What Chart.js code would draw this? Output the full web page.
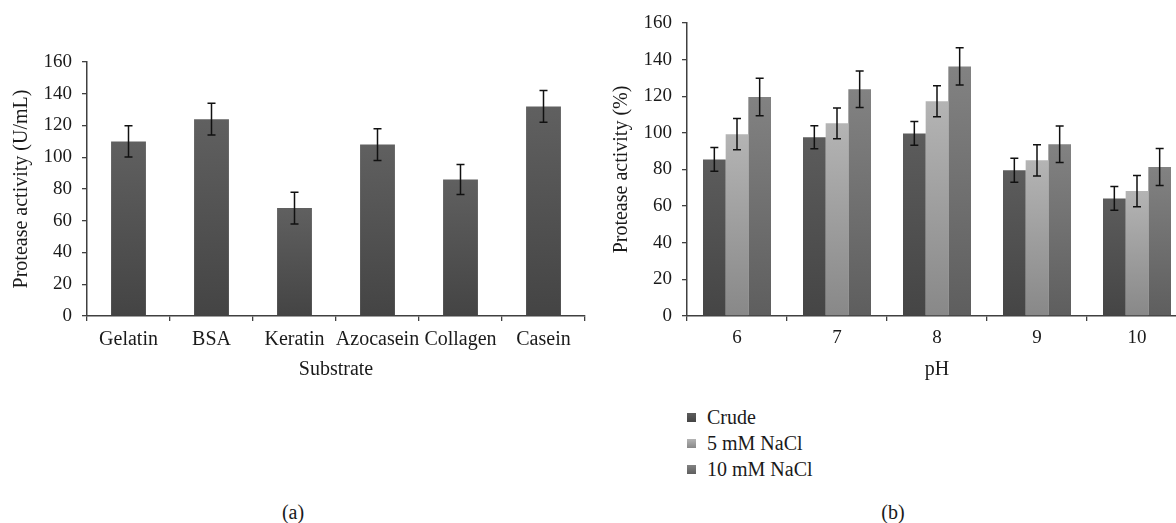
<!DOCTYPE html>
<html>
<head>
<meta charset="utf-8">
<script src="https://cdn.jsdelivr.net/npm/chart.js@4"></script>
<style>
  html, body { margin: 0; padding: 0; background: #fff; overflow: hidden; }
  body { width: 1176px; height: 523px; position: relative; font-family: "Liberation Serif", serif; color: #1a1a1a; }
  canvas { position: absolute; top: 0; }
  #chartA { left: 0; }
  #chartB { left: 600px; }
  .panel { position: absolute; top: 500px; width: 60px; margin-left: -30px; text-align: center; font-size: 20px; line-height: 24px; }
  #legendB { position: absolute; left: 687px; top: 404px; font-size: 20px; }
  #legendB div { height: 26px; display: flex; align-items: center; }
  #legendB span.box { width: 9px; height: 9px; margin-right: 11px; display: inline-block; }
</style>
</head>
<body>
<canvas id="chartA" width="600" height="400"></canvas>
<canvas id="chartB" width="600" height="400"></canvas>
<div id="legendB"></div>
<div class="panel" style="left:293px">(a)</div>
<div class="panel" style="left:893px">(b)</div>
<script>
// (a) substrate specificity
var substrates = ["Gelatin", "BSA", "Keratin", "Azocasein", "Collagen", "Casein"];
var activityA = [110, 124, 68, 108, 86, 132];
var errorA = [9.8, 10, 10, 10, 9.5, 10];

// (b) pH / NaCl
var phLabels = ["6", "7", "8", "9", "10"];
var seriesNames = ["Crude", "5 mM NaCl", "10 mM NaCl"];
var crude = [85.5, 97.6, 99.7, 79.6, 64.2];
var crudeErr = [6.5, 6.3, 6.5, 6.5, 6.5];
var nacl5 = [99.3, 105.2, 117.3, 85, 68.2];
var nacl5Err = [8.5, 8.4, 8.5, 8.5, 8.5];
var nacl10 = [119.6, 123.8, 136.3, 93.8, 81.3];
var nacl10Err = [10.2, 10, 10.2, 10, 10.1];

var yTicks = [0, 20, 40, 60, 80, 100, 120, 140, 160];

Chart.defaults.font.family = "'Liberation Serif', 'Times New Roman', serif";
Chart.defaults.color = "#1a1a1a";

// vertical gradient per bar, lighter at the top
function barFill(top, bottom) {
  return function (ctx) {
    var chart = ctx.chart;
    var y = chart.scales.y;
    if (!y || ctx.type !== "data") return bottom;
    var y0 = y.getPixelForValue(0);
    var y1 = y.getPixelForValue(ctx.parsed.y);
    if (!isFinite(y0) || !isFinite(y1) || y0 === y1) return bottom;
    var g = chart.ctx.createLinearGradient(0, y1, 0, y0);
    g.addColorStop(0, top);
    g.addColorStop(1, bottom);
    return g;
  };
}

var errorBars = {
  id: "errorBars",
  afterDatasetsDraw: function (chart) {
    var ctx = chart.ctx;
    var y = chart.scales.y;
    ctx.save();
    ctx.strokeStyle = "#111";
    ctx.lineWidth = 1.5;
    chart.data.datasets.forEach(function (ds, i) {
      if (!ds.errors) return;
      chart.getDatasetMeta(i).data.forEach(function (bar, j) {
        var v = ds.data[j], e = ds.errors[j];
        var top = y.getPixelForValue(v + e);
        var bot = y.getPixelForValue(v - e);
        ctx.beginPath();
        ctx.moveTo(bar.x, top); ctx.lineTo(bar.x, bot);
        ctx.moveTo(bar.x - 4, top); ctx.lineTo(bar.x + 4, top);
        ctx.moveTo(bar.x - 4, bot); ctx.lineTo(bar.x + 4, bot);
        ctx.stroke();
      });
    });
    ctx.restore();
  }
};

function axes(xTitle, yTitle, xFont, xPad) {
  return {
    x: {
      afterFit: function (s) { s.height = 84; },
      grid: { display: true, offset: true, drawOnChartArea: false, tickLength: 5, color: "#404040", lineWidth: 1.3 },
      border: { color: "#404040", width: 1.5 },
      ticks: { font: { size: xFont }, padding: xPad, color: "#1a1a1a", maxRotation: 0, minRotation: 0, autoSkip: false },
      title: { display: true, text: xTitle, font: { size: 20 }, padding: { top: 0, bottom: 18 }, color: "#1a1a1a" }
    },
    y: {
      min: 0,
      max: 160,
      afterFit: function (s) { s.width = 87; },
      afterBuildTicks: function (s) { s.ticks = yTicks.map(function (v) { return { value: v }; }); },
      grid: { display: true, drawOnChartArea: false, tickLength: 5, color: "#404040", lineWidth: 1.3 },
      border: { color: "#404040", width: 1.5 },
      ticks: { font: { size: 19 }, padding: 10, color: "#1a1a1a" },
      title: { display: true, text: yTitle, font: { size: 20 }, padding: { top: 10 }, color: "#1a1a1a" }
    }
  };
}

new Chart(document.getElementById("chartA"), {
  type: "bar",
  data: {
    labels: substrates,
    datasets: [{
      data: activityA,
      errors: errorA,
      backgroundColor: barFill("#606060", "#444444"),
      categoryPercentage: 1,
      barPercentage: 0.42
    }]
  },
  options: {
    responsive: false,
    animation: false,
    devicePixelRatio: 1,
    layout: { padding: { top: 62, left: 0, right: 15, bottom: 0 } },
    plugins: { legend: { display: false }, tooltip: { enabled: false } },
    scales: axes("Substrate", "Protease activity (U/mL)", 20, 7)
  },
  plugins: [errorBars]
});

var fillsB = [["#5c5c5c", "#454545"], ["#b4b4b4", "#888888"], ["#828282", "#5e5e5e"]];

new Chart(document.getElementById("chartB"), {
  type: "bar",
  data: {
    labels: phLabels,
    datasets: [
      { label: seriesNames[0], data: crude, errors: crudeErr, backgroundColor: barFill(fillsB[0][0], fillsB[0][1]) },
      { label: seriesNames[1], data: nacl5, errors: nacl5Err, backgroundColor: barFill(fillsB[1][0], fillsB[1][1]) },
      { label: seriesNames[2], data: nacl10, errors: nacl10Err, backgroundColor: barFill(fillsB[2][0], fillsB[2][1]) }
    ]
  },
  options: {
    responsive: false,
    animation: false,
    devicePixelRatio: 1,
    datasets: { bar: { categoryPercentage: 0.68, barPercentage: 1 } },
    layout: { padding: { top: 23, left: 0, right: 13, bottom: 0 } },
    plugins: { legend: { display: false }, tooltip: { enabled: false } },
    scales: axes("pH", "Protease activity (%)", 19, 6)
  },
  plugins: [errorBars]
});

// legend for (b)
var legend = document.getElementById("legendB");
seriesNames.forEach(function (name, i) {
  var row = document.createElement("div");
  var box = document.createElement("span");
  box.className = "box";
  box.style.background = "linear-gradient(" + fillsB[i][0] + ", " + fillsB[i][1] + ")";
  row.appendChild(box);
  row.appendChild(document.createTextNode(name));
  legend.appendChild(row);
});
</script>
</body>
</html>
